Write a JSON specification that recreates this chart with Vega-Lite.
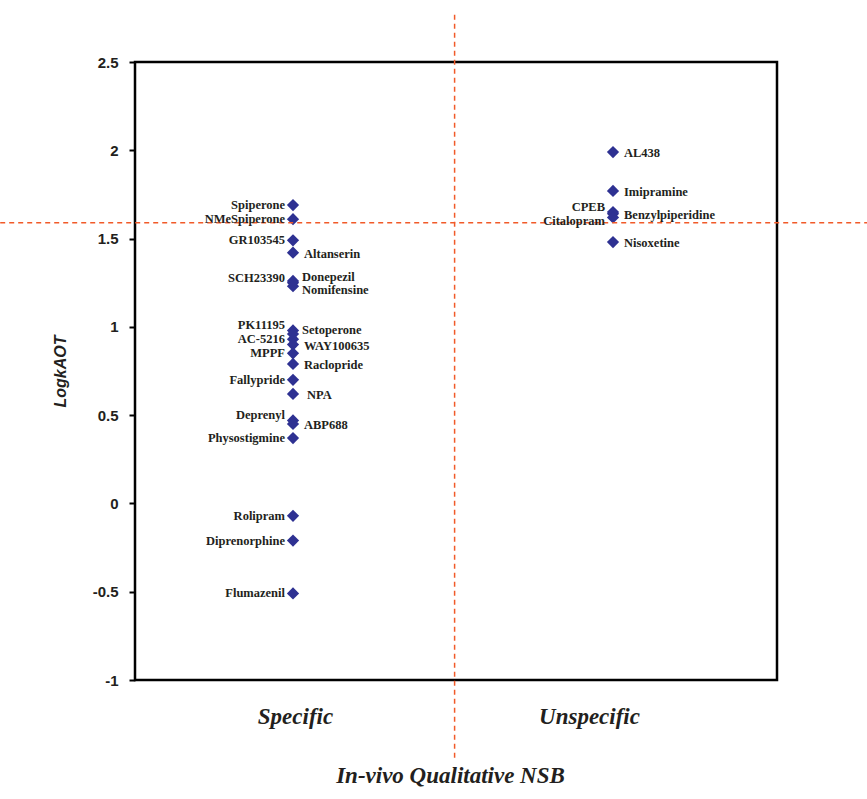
{
  "$schema": "https://vega.github.io/schema/vega-lite/v6.json",
  "width": 642,
  "height": 618,
  "autosize": {"type": "none"},
  "padding": {"left": 135, "top": 62, "right": 90, "bottom": 119},
  "background": "white",
  "config": {
    "view": {"stroke": "black", "strokeWidth": 2.5},
    "axis": {"grid": false},
    "text": {"font": "Liberation Serif", "fontWeight": "bold", "fontSize": 12.5, "color": "#231F20", "baseline": "middle"}
  },
  "datasets": {
    "pts": [
      {"compound": "Spiperone", "group": 1, "logk": 1.69},
      {"compound": "NMeSpiperone", "group": 1, "logk": 1.61},
      {"compound": "GR103545", "group": 1, "logk": 1.49},
      {"compound": "Altanserin", "group": 1, "logk": 1.42},
      {"compound": "SCH23390", "group": 1, "logk": 1.25},
      {"compound": "Donepezil", "group": 1, "logk": 1.26},
      {"compound": "Nomifensine", "group": 1, "logk": 1.23},
      {"compound": "PK11195", "group": 1, "logk": 0.98},
      {"compound": "Setoperone", "group": 1, "logk": 0.96},
      {"compound": "AC-5216", "group": 1, "logk": 0.93},
      {"compound": "WAY100635", "group": 1, "logk": 0.9},
      {"compound": "MPPF", "group": 1, "logk": 0.85},
      {"compound": "Raclopride", "group": 1, "logk": 0.79},
      {"compound": "Fallypride", "group": 1, "logk": 0.7},
      {"compound": "NPA", "group": 1, "logk": 0.62},
      {"compound": "Deprenyl", "group": 1, "logk": 0.47},
      {"compound": "ABP688", "group": 1, "logk": 0.45},
      {"compound": "Physostigmine", "group": 1, "logk": 0.37},
      {"compound": "Rolipram", "group": 1, "logk": -0.07},
      {"compound": "Diprenorphine", "group": 1, "logk": -0.21},
      {"compound": "Flumazenil", "group": 1, "logk": -0.51},
      {"compound": "AL438", "group": 3, "logk": 1.99},
      {"compound": "Imipramine", "group": 3, "logk": 1.77},
      {"compound": "CPEB", "group": 3, "logk": 1.65},
      {"compound": "Benzylpiperidine", "group": 3, "logk": 1.64},
      {"compound": "Citalopram", "group": 3, "logk": 1.62},
      {"compound": "Nisoxetine", "group": 3, "logk": 1.48}
    ],
    "vline": [{"x": 2.01, "y": -1.44, "y2": 2.78}],
    "hline": [{"x": -0.83, "x2": 4.6, "y": 1.59}]
  },
  "layer": [
    {
      "data": {"name": "pts"},
      "mark": {"type": "point", "shape": "diamond", "filled": true, "size": 150, "color": "#2E3192", "opacity": 1},
      "encoding": {
        "x": {
          "field": "group", "type": "quantitative",
          "scale": {"domain": [0.0125, 4.025], "nice": false, "zero": false},
          "axis": {
            "values": [1.0125, 2.85],
            "labelExpr": "datum.value < 2 ? 'Specific' : 'Unspecific'",
            "ticks": false, "domain": false,
            "labelFont": "Liberation Serif", "labelFontStyle": "italic", "labelFontWeight": "bold",
            "labelFontSize": 23, "labelColor": "#231F20", "labelPadding": 25,
            "title": "In-vivo Qualitative NSB",
            "titleFont": "Liberation Serif", "titleFontStyle": "italic", "titleFontWeight": "bold",
            "titleFontSize": 23, "titleColor": "#231F20", "titlePadding": 36,
            "titleX": 315, "titleAlign": "center"
          }
        },
        "y": {
          "field": "logk", "type": "quantitative",
          "scale": {"domain": [-1, 2.5], "nice": false, "zero": false},
          "axis": {
            "values": [-1, -0.5, 0, 0.5, 1, 1.5, 2, 2.5],
            "labelExpr": "'' + datum.value",
            "domain": false, "tickSize": 6, "tickWidth": 2, "tickColor": "black",
            "labelFont": "Liberation Sans", "labelFontWeight": "bold", "labelFontSize": 15,
            "labelColor": "#231F20", "labelPadding": 11,
            "title": "LogkAOT",
            "titleFont": "Liberation Sans", "titleFontStyle": "italic", "titleFontWeight": "bold",
            "titleFontSize": 16, "titleColor": "#231F20", "titlePadding": 24
          }
        }
      }
    },
    {
      "data": {"name": "vline"},
      "mark": {"type": "rule", "color": "#F15A29", "strokeDash": [5, 4], "strokeWidth": 1.5, "clip": false},
      "encoding": {
        "x": {"field": "x", "type": "quantitative"},
        "y": {"field": "y", "type": "quantitative"},
        "y2": {"field": "y2"}
      }
    },
    {
      "data": {"name": "hline"},
      "mark": {"type": "rule", "color": "#F15A29", "strokeDash": [5, 4], "strokeWidth": 1.5, "clip": false},
      "encoding": {
        "x": {"field": "x", "type": "quantitative"},
        "x2": {"field": "x2"},
        "y": {"field": "y", "type": "quantitative"}
      }
    },
    {
      "data": {"name": "pts"},
      "transform": [{"filter": {"field": "compound", "oneOf": ["Spiperone", "NMeSpiperone", "GR103545", "AC-5216", "MPPF", "Fallypride", "Physostigmine", "Rolipram", "Diprenorphine", "Flumazenil"]}}],
      "mark": {"type": "text", "align": "right", "dx": -8},
      "encoding": {
        "x": {"field": "group", "type": "quantitative"},
        "y": {"field": "logk", "type": "quantitative"},
        "text": {"field": "compound"}
      }
    },
    {
      "data": {"name": "pts"},
      "transform": [{"filter": {"field": "compound", "oneOf": ["SCH23390", "PK11195", "Deprenyl", "CPEB"]}}],
      "mark": {"type": "text", "align": "right", "dx": -8, "dy": -5},
      "encoding": {
        "x": {"field": "group", "type": "quantitative"},
        "y": {"field": "logk", "type": "quantitative"},
        "text": {"field": "compound"}
      }
    },
    {
      "data": {"name": "pts"},
      "transform": [{"filter": {"field": "compound", "oneOf": ["Citalopram"]}}],
      "mark": {"type": "text", "align": "right", "dx": -8, "dy": 4},
      "encoding": {
        "x": {"field": "group", "type": "quantitative"},
        "y": {"field": "logk", "type": "quantitative"},
        "text": {"field": "compound"}
      }
    },
    {
      "data": {"name": "pts"},
      "transform": [{"filter": {"field": "compound", "oneOf": ["Altanserin", "Raclopride", "ABP688", "AL438", "Imipramine", "Benzylpiperidine", "Nisoxetine", "WAY100635"]}}],
      "mark": {"type": "text", "align": "left", "dx": 11, "dy": 1},
      "encoding": {
        "x": {"field": "group", "type": "quantitative"},
        "y": {"field": "logk", "type": "quantitative"},
        "text": {"field": "compound"}
      }
    },
    {
      "data": {"name": "pts"},
      "transform": [{"filter": {"field": "compound", "oneOf": ["NPA"]}}],
      "mark": {"type": "text", "align": "left", "dx": 14, "dy": 1},
      "encoding": {
        "x": {"field": "group", "type": "quantitative"},
        "y": {"field": "logk", "type": "quantitative"},
        "text": {"field": "compound"}
      }
    },
    {
      "data": {"name": "pts"},
      "transform": [{"filter": {"field": "compound", "oneOf": ["Donepezil", "Setoperone"]}}],
      "mark": {"type": "text", "align": "left", "dx": 9, "dy": -4},
      "encoding": {
        "x": {"field": "group", "type": "quantitative"},
        "y": {"field": "logk", "type": "quantitative"},
        "text": {"field": "compound"}
      }
    },
    {
      "data": {"name": "pts"},
      "transform": [{"filter": {"field": "compound", "oneOf": ["Nomifensine"]}}],
      "mark": {"type": "text", "align": "left", "dx": 9, "dy": 4},
      "encoding": {
        "x": {"field": "group", "type": "quantitative"},
        "y": {"field": "logk", "type": "quantitative"},
        "text": {"field": "compound"}
      }
    }
  ]
}
